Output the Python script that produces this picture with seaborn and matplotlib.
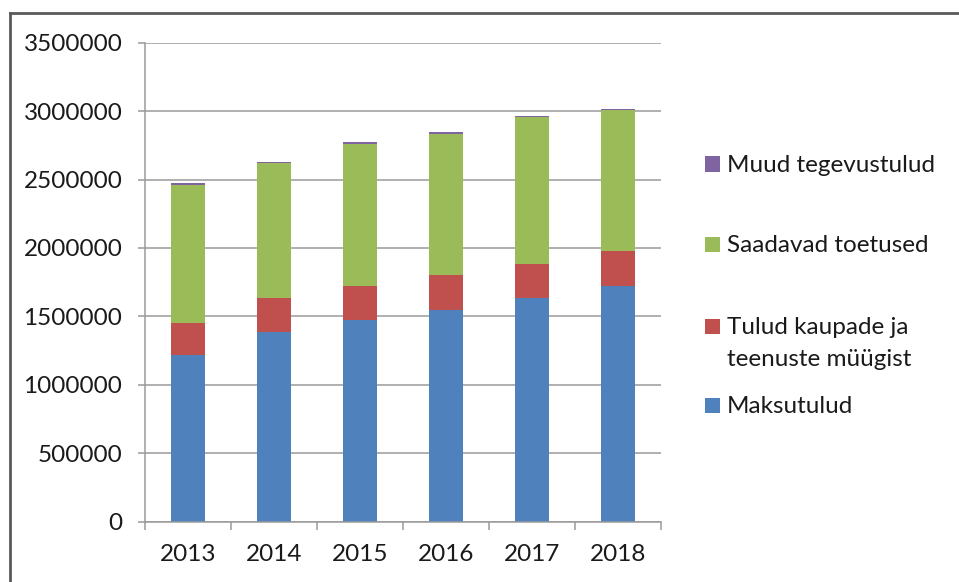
import numpy as np
import pandas as pd
import matplotlib
matplotlib.use("Agg")
import matplotlib.pyplot as plt
from matplotlib.patches import Rectangle
from matplotlib.lines import Line2D
from matplotlib.ticker import FixedLocator, StrMethodFormatter
import seaborn as sns

# ---- data ----
years = ["2013", "2014", "2015", "2016", "2017", "2018"]
maksutulud = [1219000, 1387000, 1471000, 1547000, 1632000, 1724000]
tulud_kaupade = [233000, 245000, 253000, 252000, 250000, 253000]
saadavad_toetused = [1011000, 989000, 1038000, 1036000, 1076000, 1028000]
muud_tegevustulud = [10000, 9000, 10000, 10000, 10000, 10000]

series_names = ["Maksutulud", "Tulud kaupade ja\nteenuste müügist",
                "Saadavad toetused", "Muud tegevustulud"]
series_values = [maksutulud, tulud_kaupade, saadavad_toetused, muud_tegevustulud]
series_colors = ["#4F81BD", "#C0504D", "#9BBB59", "#8064A2"]

yticks = [0, 500000, 1000000, 1500000, 2000000, 2500000, 3000000, 3500000]

# ---- figure ----
sns.set_theme(style="white")
plt.rcParams["font.family"] = ["Lato", "DejaVu Sans"]

W, H = 959, 582
FS = 17.5
fig = plt.figure(figsize=(W / 100, H / 100), dpi=100)
fig.patch.set_facecolor("white")

def fx(px):
    return px / W

def fy(py):
    return 1 - py / H

ax = fig.add_axes([fx(145.3), fy(521.7), fx(660.7) - fx(145.3), fy(42.7) - fy(521.7)])

df = pd.DataFrame({"year": years})
for name, vals in zip(series_names, series_values):
    df[name] = vals
cum = df[series_names].cumsum(axis=1)

# draw from the top of the stack down so lower segments overlay higher ones
for name, color in zip(series_names[::-1], series_colors[::-1]):
    sns.barplot(data=pd.DataFrame({"year": years, "v": cum[name]}),
                x="year", y="v", color=color, width=0.396, ax=ax,
                linewidth=0, saturation=1, zorder=3, errorbar=None)

ax.set_xlim(-0.5, 5.5)
ax.set_ylim(0, 3500000)
ax.yaxis.set_major_locator(FixedLocator(yticks))
ax.yaxis.set_major_formatter(StrMethodFormatter("{x:.0f}"))
ax.set_xlabel("")
ax.set_ylabel("")

grid_col = "#9a9a9a"
ax.grid(axis="y", color=grid_col, linewidth=1.1, zorder=0)
ax.grid(axis="x", visible=False)
for s in ["top", "right"]:
    ax.spines[s].set_visible(False)
for s in ["left", "bottom"]:
    ax.spines[s].set_color(grid_col)
    ax.spines[s].set_linewidth(1.1)
    ax.spines[s].set_zorder(4)

ax.xaxis.set_minor_locator(FixedLocator(np.arange(-0.5, 6, 1.0)))
ax.tick_params(axis="x", which="major", length=0, pad=16, labelsize=FS,
               labelcolor="#1a1a1a")
ax.tick_params(axis="x", which="minor", length=6, width=1.1, color=grid_col,
               direction="out", bottom=True)
ax.tick_params(axis="y", which="major", length=5, width=1.1, color=grid_col,
               direction="out", left=True, pad=11.5, labelsize=FS,
               labelcolor="#1a1a1a")

# ---- legend (manual, Excel style: marker aligned with first line) ----
legend_rows = [
    ("Muud tegevustulud", "#8064A2", 164, 172),
    ("Saadavad toetused", "#9BBB59", 244, 252),
    ("Tulud kaupade ja\nteenuste müügist", "#C0504D", 326, 334),
    ("Maksutulud", "#4F81BD", 405, 413),
]
for label, color, cy, base in legend_rows:
    fig.patches.append(Rectangle((fx(704.5), fy(cy + 7.5)), fx(15), fy(cy - 7.5) - fy(cy + 7.5),
                                 transform=fig.transFigure, facecolor=color,
                                 edgecolor="none", figure=fig))
    lines = label.split("\n")
    for i, ln in enumerate(lines):
        fig.text(fx(727), fy(base + i * 32), ln, fontsize=FS, color="#1a1a1a",
                 ha="left", va="baseline")

# ---- outer chart frame ----
frame_col = "#5a5a5a"
fig.add_artist(Line2D([fx(10), fx(10)], [fy(12.5), 0], transform=fig.transFigure,
                      color=frame_col, linewidth=2.0, solid_capstyle="projecting"))
fig.add_artist(Line2D([fx(10), 1], [fy(12.5), fy(12.5)], transform=fig.transFigure,
                      color=frame_col, linewidth=2.0, solid_capstyle="projecting"))

fig.savefig("out.png", dpi=100, facecolor="white")
